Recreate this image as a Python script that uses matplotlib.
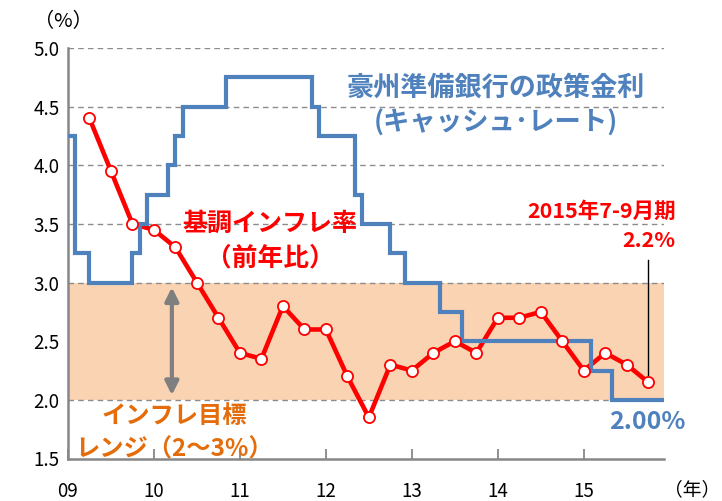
import matplotlib
matplotlib.use("Agg")
import matplotlib.pyplot as plt

plt.rcParams['font.family'] = ['Noto Sans CJK JP', 'DejaVu Sans']

# ---- data ----
rate_dates = ["2009-01", "2009-02", "2009-04", "2009-10", "2009-11", "2009-12",
              "2010-03", "2010-04", "2010-05", "2010-11", "2011-11", "2011-12",
              "2012-05", "2012-06", "2012-10", "2012-12", "2013-05", "2013-08",
              "2015-02", "2015-05", "2015-12"]
rate_values = [4.25, 3.25, 3.00, 3.25, 3.50, 3.75,
               4.00, 4.25, 4.50, 4.75, 4.50, 4.25,
               3.75, 3.50, 3.25, 3.00, 2.75, 2.50,
               2.25, 2.00, 2.00]

infl_dates = ["2009-04", "2009-07", "2009-10", "2010-01", "2010-04", "2010-07",
              "2010-10", "2011-01", "2011-04", "2011-07", "2011-10", "2012-01",
              "2012-04", "2012-07", "2012-10", "2013-01", "2013-04", "2013-07",
              "2013-10", "2014-01", "2014-04", "2014-07", "2014-10", "2015-01",
              "2015-04", "2015-07", "2015-10"]
infl_values = [4.4, 3.95, 3.5, 3.45, 3.3, 3.0, 2.7, 2.4, 2.35, 2.8, 2.6, 2.6,
               2.2, 1.85, 2.3, 2.25, 2.4, 2.5, 2.4, 2.7, 2.7, 2.75, 2.5, 2.25,
               2.4, 2.3, 2.15]

year_ticks = ["2009-01", "2010-01", "2011-01", "2012-01", "2013-01", "2014-01", "2015-01"]
year_labels = ["09", "10", "11", "12", "13", "14", "15"]
target_low, target_high = 2.0, 3.0


def midx(s):
    y, m = s.split("-")
    return (int(y) - 2009) * 12 + int(m) - 1


BLUE = "#4F81BD"
RED = "#FF0000"
ORANGE = "#E46C0A"
BAND = "#FAD3B3"
GRAY = "#878787"

fig = plt.figure(figsize=(7.22, 5.01), dpi=100)
ax = fig.add_axes([68 / 722, 1 - 458.5 / 501, (664 - 68) / 722, (458.5 - 48) / 501])
ax.set_xlim(0, 83.2)
ax.set_ylim(1.5, 5.0)

# grid
for v in [2.5, 3.5, 4.0, 4.5, 5.0]:
    ax.axhline(v, color="#8C8C8C", lw=1.0, ls=(0, (4, 3)), zorder=1)
ax.axhspan(target_low, target_high, color=BAND, lw=0, zorder=1.5)
for v in [target_low, target_high]:
    ax.axhline(v, color="#8C8C8C", lw=1.0, ls=(0, (4, 3)), zorder=1.6)

ix = [midx(d) for d in infl_dates]
ax.plot(ix, infl_values, color=RED, lw=3.3, zorder=2.5)

rx = [midx(d) for d in rate_dates]
ax.step(rx, rate_values, where="post", color=BLUE, lw=3.0, zorder=3,
        solid_joinstyle="miter")

ax.plot(ix, infl_values, ls="none", zorder=4, marker="o", ms=8,
        mfc="white", mec=RED, mew=1.3)

# spines & ticks
for s in ["top", "right"]:
    ax.spines[s].set_visible(False)
for s in ["left", "bottom"]:
    ax.spines[s].set_color(GRAY)
    ax.spines[s].set_linewidth(1.8)
ax.set_yticks([1.5, 2.0, 2.5, 3.0, 3.5, 4.0, 4.5, 5.0])
ax.set_yticklabels(["1.5", "2.0", "2.5", "3.0", "3.5", "4.0", "4.5", "5.0"])
ax.tick_params(axis="y", length=0, pad=6, labelsize=13.5)
ax.set_xticks([midx(d) for d in year_ticks])
ax.set_xticklabels(year_labels)
ax.tick_params(axis="x", direction="in", length=7, width=1.3, color=GRAY,
               pad=16, labelsize=13.5)

# annotations
ax.text(59.7, 4.66, "豪州準備銀行の政策金利", color=BLUE, fontsize=19.5,
        fontweight="bold", ha="center", va="center", zorder=5)
ax.text(59.7, 4.36, "(キャッシュ･レート)", color=BLUE, fontsize=19,
        fontweight="bold", ha="center", va="center", zorder=5)
ax.text(28.2, 3.50, "基調インフレ率", color=RED, fontsize=18,
        fontweight="bold", ha="center", va="center", zorder=5)
ax.text(28.2, 3.21, "（前年比）", color=RED, fontsize=18.5,
        fontweight="bold", ha="center", va="center", zorder=5)
ax.text(84.8, 3.61, "2015年7-9月期", color=RED, fontsize=15.5,
        fontweight="bold", ha="right", va="center", zorder=5, clip_on=False)
ax.text(84.8, 3.36, "2.2%", color=RED, fontsize=15.5,
        fontweight="bold", ha="right", va="center", zorder=5, clip_on=False)
ax.plot([ix[-1], ix[-1]], [3.19, infl_values[-1] + 0.06], color="black", lw=1.0, zorder=3.5)
ax.text(80.8, 1.81, "2.00%", color=BLUE, fontsize=18,
        fontweight="bold", ha="center", va="center", zorder=5, clip_on=False)
ax.text(14.8, 1.86, "インフレ目標", color=ORANGE, fontsize=17.5,
        fontweight="bold", ha="center", va="center", zorder=5)
ax.text(14.8, 1.58, "レンジ（2～3%）", color=ORANGE, fontsize=17.5,
        fontweight="bold", ha="center", va="center", zorder=5)
ax.annotate("", xy=(14.5, 2.04), xytext=(14.5, 2.96),
            arrowprops=dict(arrowstyle="<|-|>,head_length=0.8,head_width=0.4",
                            color="#7F7F7F", lw=3.0, shrinkA=0, shrinkB=0), zorder=5)

fig.text(63 / 722, 1 - 22 / 501, "（%）", fontsize=14.5, ha="center", va="center")
fig.text(692 / 722, 1 - 490 / 501, "（年）", fontsize=13.5, ha="center", va="center")

fig.savefig("out.png", dpi=100)
